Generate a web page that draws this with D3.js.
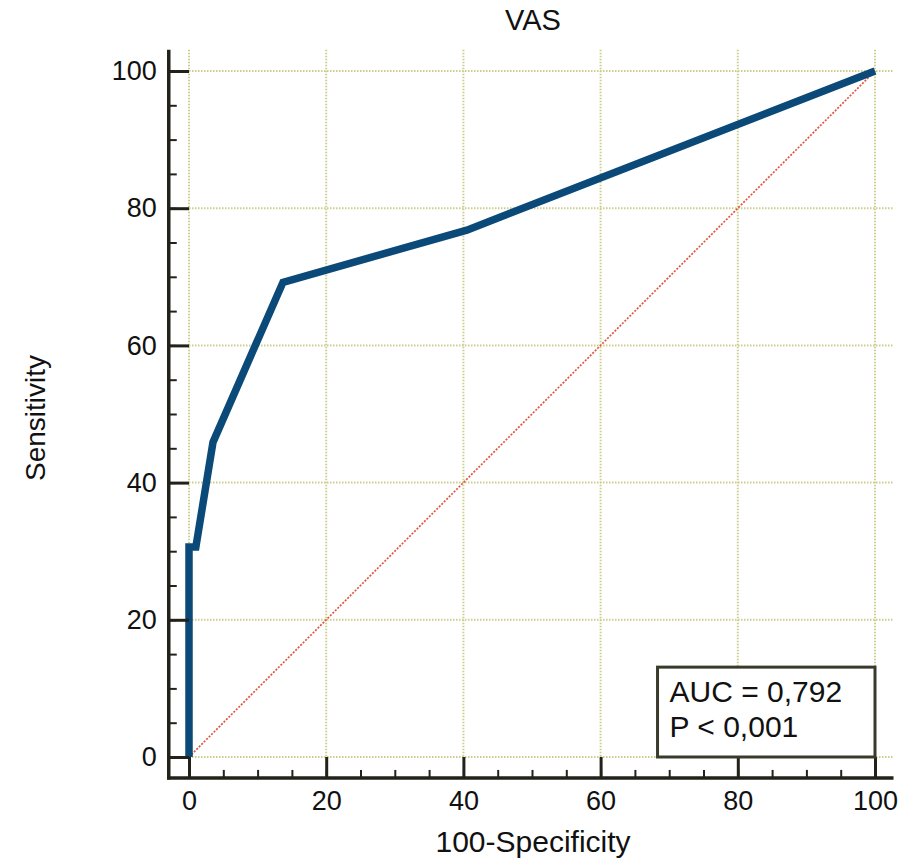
<!DOCTYPE html>
<html>
<head>
<meta charset="utf-8">
<script src="https://cdn.jsdelivr.net/npm/d3@7"></script>
<style>
  body { margin: 0; background: #fff; }
  svg { display: block; font-family: "Liberation Sans", Arial, sans-serif; }
</style>
</head>
<body>
<div id="chart"></div>
<script>
// ROC curve points (100-Specificity, Sensitivity)
var fpr = [0, 0, 1.0, 3.5, 13.7, 40.5, 100];
var tpr = [0, 30.6, 30.6, 45.9, 69.2, 76.8, 100];
var majorTicks = [0, 20, 40, 60, 80, 100];
var minorTicks = d3.range(0, 101, 5);
var title = "VAS";
var xLabel = "100-Specificity";
var yLabel = "Sensitivity";
var statLines = ["AUC = 0,792", "P < 0,001"];

var width = 902, height = 866;

var svg = d3.select("#chart")
    .append("svg")
    .attr("width", width)
    .attr("height", height);

var x = d3.scaleLinear().domain([0, 100]).range([189, 875]);
var y = d3.scaleLinear().domain([0, 100]).range([757, 71]);

var x0 = x(-2.95), x1 = x(102.7);
var y0 = y(-3.05), y1 = y(103.1);

var axisColor = "#22221a";
var gridColor = "#cdcd8e";

// grid
svg.append("g")
  .selectAll("line")
  .data(majorTicks)
  .enter()
  .append("line")
    .attr("x1", function(d) { return x(d); })
    .attr("x2", function(d) { return x(d); })
    .attr("y1", y1)
    .attr("y2", y(0))
    .attr("stroke", gridColor)
    .attr("stroke-width", 2)
    .attr("stroke-dasharray", "1.5,1.5");

svg.append("g")
  .selectAll("line")
  .data(majorTicks)
  .enter()
  .append("line")
    .attr("x1", x(0))
    .attr("x2", x1)
    .attr("y1", function(d) { return y(d); })
    .attr("y2", function(d) { return y(d); })
    .attr("stroke", gridColor)
    .attr("stroke-width", 2)
    .attr("stroke-dasharray", "1.5,1.5");

// reference diagonal
svg.append("line")
  .attr("x1", x(0)).attr("y1", y(0))
  .attr("x2", x(100)).attr("y2", y(100))
  .attr("stroke", "#e2553c")
  .attr("stroke-width", 1.7)
  .attr("stroke-dasharray", "2,1.5");

// ROC curve
var pts = fpr.map(function(d, i) { return [d, tpr[i]]; });
var line = d3.line()
  .x(function(d) { return x(d[0]); })
  .y(function(d) { return y(d[1]); });

svg.append("path")
  .datum(pts)
  .attr("d", line)
  .attr("fill", "none")
  .attr("stroke", "#0b4a78")
  .attr("stroke-width", 7.5)
  .attr("stroke-linejoin", "miter");

// axes: minor ticks
svg.append("g")
  .attr("transform", "translate(" + x0 + ",0)")
  .call(d3.axisLeft(y).tickValues(minorTicks).tickSize(-8).tickFormat(""))
  .call(function(g) { g.select(".domain").remove(); })
  .selectAll("line").attr("stroke", axisColor).attr("stroke-width", 2);

svg.append("g")
  .attr("transform", "translate(0," + y0 + ")")
  .call(d3.axisBottom(x).tickValues(minorTicks).tickSize(-8).tickFormat(""))
  .call(function(g) { g.select(".domain").remove(); })
  .selectAll("line").attr("stroke", axisColor).attr("stroke-width", 2);

// axes: major ticks with labels
var yAxis = svg.append("g")
  .attr("transform", "translate(" + x0 + ",0)")
  .call(d3.axisLeft(y).tickValues(majorTicks).tickSize(-(x(0) - x0)).tickPadding(12));
yAxis.select(".domain").remove();
yAxis.selectAll("line").attr("stroke", axisColor).attr("stroke-width", 3);
yAxis.selectAll("text")
  .attr("fill", "#111")
  .style("font-size", "27px")
  .style("font-family", "Liberation Sans, Arial, sans-serif");

var xAxis = svg.append("g")
  .attr("transform", "translate(0," + y0 + ")")
  .call(d3.axisBottom(x).tickValues(majorTicks).tickSize(-(y0 - y(0))).tickPadding(12));
xAxis.select(".domain").remove();
xAxis.selectAll("line").attr("stroke", axisColor).attr("stroke-width", 3);
xAxis.selectAll("text")
  .attr("fill", "#111")
  .attr("dy", "0.75em")
  .style("font-size", "27px")
  .style("font-family", "Liberation Sans, Arial, sans-serif");

// axis lines
svg.append("line")
  .attr("x1", x0).attr("x2", x0)
  .attr("y1", y1).attr("y2", y0 + 1.5)
  .attr("stroke", axisColor).attr("stroke-width", 3.5);
svg.append("line")
  .attr("x1", x0 - 1.75).attr("x2", x1)
  .attr("y1", y0).attr("y2", y0)
  .attr("stroke", axisColor).attr("stroke-width", 3.5);

// stats box
var bx = x(68.3), by = y(13.1);
svg.append("rect")
  .attr("x", bx)
  .attr("y", by)
  .attr("width", x(100) - bx)
  .attr("height", y(0) - by)
  .attr("fill", "#fff")
  .attr("stroke", "#3a3a2c")
  .attr("stroke-width", 3);

svg.append("g")
  .selectAll("text")
  .data(statLines)
  .enter()
  .append("text")
    .attr("x", bx + 12)
    .attr("y", function(d, i) { return by + 35 + i * 35; })
    .attr("fill", "#111")
    .style("font-size", "30px")
    .text(function(d) { return d; });

// titles
svg.append("text")
  .attr("x", 533)
  .attr("y", 30)
  .attr("text-anchor", "middle")
  .attr("fill", "#111")
  .style("font-size", "29px")
  .text(title);

svg.append("text")
  .attr("x", 533)
  .attr("y", 852)
  .attr("text-anchor", "middle")
  .attr("fill", "#111")
  .style("font-size", "30px")
  .text(xLabel);

svg.append("text")
  .attr("transform", "translate(45," + 418 + ") rotate(-90)")
  .attr("text-anchor", "middle")
  .attr("fill", "#111")
  .style("font-size", "28px")
  .text(yLabel);
</script>
</body>
</html>
